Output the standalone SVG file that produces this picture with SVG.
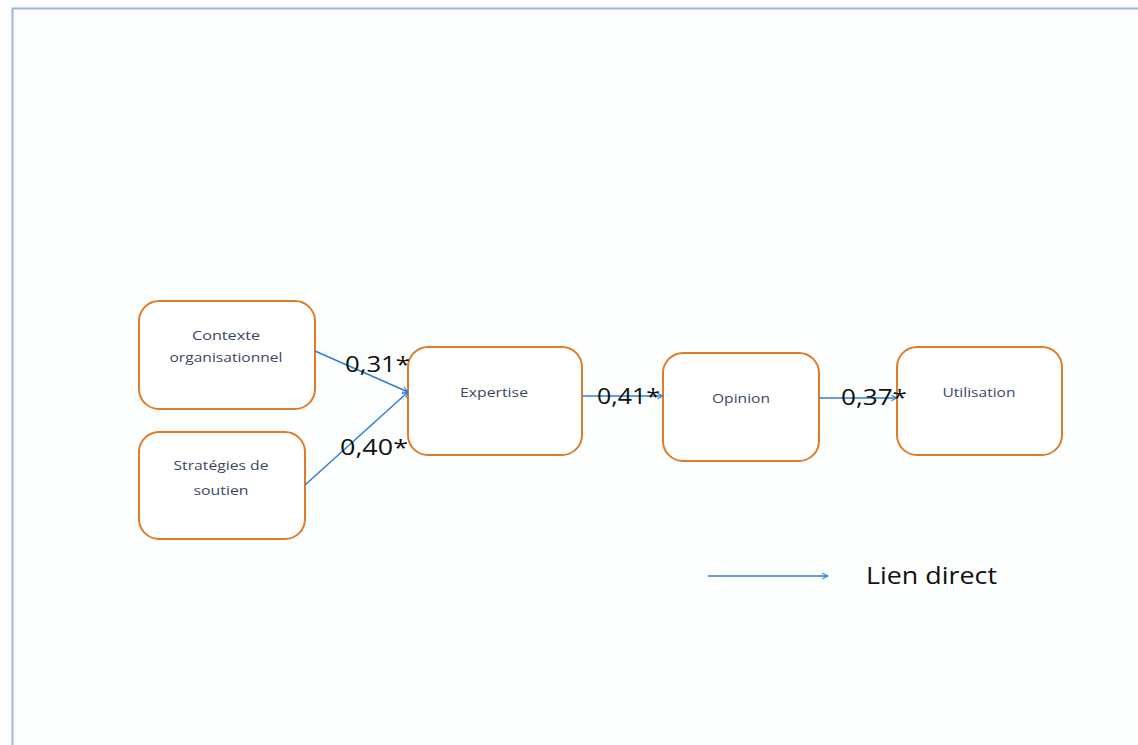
<svg xmlns="http://www.w3.org/2000/svg" width="1138" height="745" viewBox="0 0 1138 745">
<defs>
<style>
.node rect{fill:#ffffff;stroke:#e07b2a;stroke-width:2}
.node text{font-family:"Open Sans","Liberation Sans",sans-serif;font-size:13px;fill:#3a4763;text-anchor:middle}
.conn line{stroke:#2f7fd0;stroke-width:1.5;marker-end:url(#ah)}
.lbl{font-family:"Open Sans","Liberation Sans",sans-serif;font-size:22px;fill:#111111}
</style>
<marker id="ah" viewBox="0 0 10 10" refX="9" refY="5" markerWidth="7" markerHeight="7" orient="auto" markerUnits="userSpaceOnUse">
<path d="M1,1 L9,5 L1,9" fill="none" stroke="#2f7fd0" stroke-width="1.5"/>
</marker>
</defs>
<rect x="0" y="0" width="1138" height="745" fill="#fcfefe"/>
<path d="M12.5,745 L12.5,8.5 L1138,8.5" fill="none" stroke="#9db4e0" stroke-width="2"/>
<g id="contexte" class="node">
<rect x="139" y="301" width="176" height="108" rx="20"/>
<text x="226" y="340" textLength="68" lengthAdjust="spacingAndGlyphs">Contexte</text>
<text x="226" y="362" textLength="113" lengthAdjust="spacingAndGlyphs">organisationnel</text>
</g>
<g id="strategies" class="node">
<rect x="139" y="432" width="166" height="107" rx="20"/>
<text x="221" y="470" textLength="95" lengthAdjust="spacingAndGlyphs">Stratégies de</text>
<text x="221" y="495" textLength="55" lengthAdjust="spacingAndGlyphs">soutien</text>
</g>
<g id="expertise" class="node">
<rect x="408" y="347" width="174" height="108" rx="20"/>
<text x="494" y="397" textLength="68" lengthAdjust="spacingAndGlyphs">Expertise</text>
</g>
<g id="opinion" class="node">
<rect x="663" y="353" width="156" height="108" rx="20"/>
<text x="741" y="403" textLength="58" lengthAdjust="spacingAndGlyphs">Opinion</text>
</g>
<g id="utilisation" class="node">
<rect x="897" y="347" width="165" height="108" rx="20"/>
<text x="979" y="397" textLength="73" lengthAdjust="spacingAndGlyphs">Utilisation</text>
</g>
<g id="connectors" class="conn">
<line x1="315" y1="351" x2="408" y2="392"/>
<line x1="305" y1="485" x2="408" y2="392"/>
<line x1="582" y1="396" x2="663" y2="396"/>
<line x1="819" y1="398" x2="897" y2="398"/>
</g>
<g id="labels">
<text class="lbl" x="345" y="372" textLength="65" lengthAdjust="spacingAndGlyphs">0,31*</text>
<text class="lbl" x="340" y="455" textLength="68" lengthAdjust="spacingAndGlyphs">0,40*</text>
<text class="lbl" x="597" y="404" textLength="63" lengthAdjust="spacingAndGlyphs">0,41*</text>
<text class="lbl" x="841" y="405" textLength="66" lengthAdjust="spacingAndGlyphs">0,37*</text>
</g>
<g id="legend">
<line x1="708" y1="576" x2="828" y2="576" stroke="#2f7fd0" stroke-width="1.5" marker-end="url(#ah)"/>
<text x="866" y="584" font-family="'Open Sans','Liberation Sans',sans-serif" font-size="23" fill="#111111" textLength="131" lengthAdjust="spacingAndGlyphs">Lien direct</text>
</g>
</svg>
